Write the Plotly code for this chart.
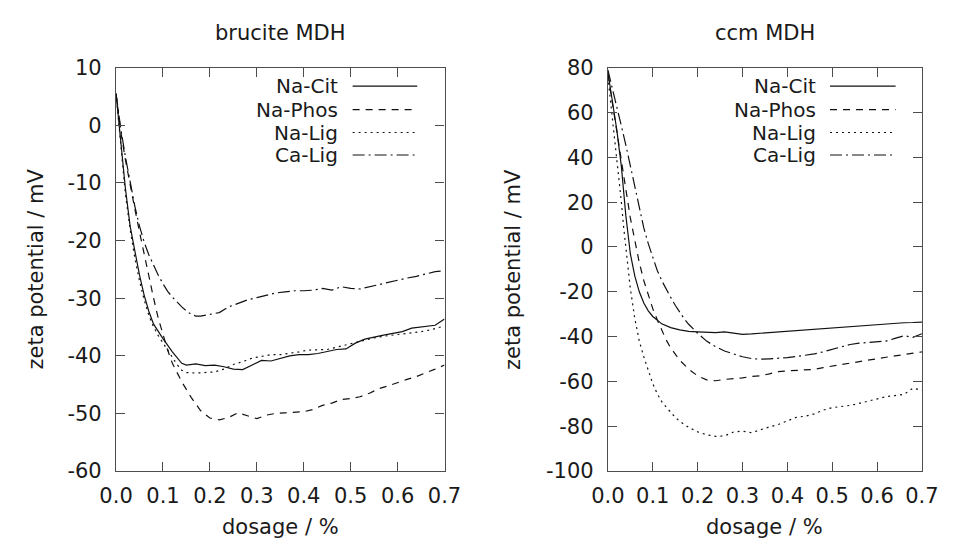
import plotly.graph_objects as go

W, H = 956, 550

# ---------------- data: brucite MDH (left panel) ----------------
bru_cit_x = [0, 0.01, 0.02, 0.03, 0.04, 0.05, 0.06, 0.07, 0.08, 0.09, 0.10, 0.12, 0.14, 0.15, 0.17, 0.19,
             0.21, 0.23, 0.25, 0.27, 0.29, 0.31, 0.33, 0.35, 0.37, 0.39, 0.41, 0.43, 0.45, 0.47, 0.49,
             0.51, 0.53, 0.55, 0.57, 0.59, 0.61, 0.63, 0.65, 0.67, 0.68, 0.70]
bru_cit_y = [5.5, -3, -11, -17.5, -22, -26, -29.5, -32.3, -34.5, -35.8, -37, -39.3, -41.3, -41.6, -41.4, -41.7,
             -41.6, -41.9, -42.3, -42.4, -41.6, -40.8, -40.9, -40.5, -40.0, -39.8, -39.8, -39.6, -39.2, -38.9, -38.8,
             -37.8, -37.1, -36.7, -36.4, -36.1, -35.8, -35.2, -35.0, -34.8, -34.7, -33.6]

bru_phos_x = [0, 0.01, 0.02, 0.03, 0.04, 0.05, 0.06, 0.07, 0.08, 0.09, 0.10, 0.11, 0.12, 0.13, 0.14, 0.16,
              0.18, 0.20, 0.22, 0.24, 0.26, 0.28, 0.30, 0.32, 0.34, 0.36, 0.38, 0.40, 0.42, 0.44, 0.46,
              0.48, 0.50, 0.52, 0.54, 0.56, 0.58, 0.60, 0.62, 0.64, 0.66, 0.68, 0.70]
bru_phos_y = [5.5, -1, -6, -10.5, -14.5, -18.5, -22.5, -26.5, -30, -33.5, -36.5, -39, -41.3, -43, -44.5, -47.2,
              -49.5, -50.8, -51.1, -50.7, -49.9, -50.4, -50.9, -50.3, -50.0, -49.9, -49.8, -49.7, -49.3, -48.6, -48.2,
              -47.6, -47.4, -47.1, -46.5, -45.7, -45.2, -44.6, -44.1, -43.6, -43.0, -42.3, -41.6]

bru_nalig_x = [0, 0.01, 0.02, 0.03, 0.04, 0.05, 0.06, 0.07, 0.08, 0.09, 0.10, 0.12, 0.13, 0.14, 0.15, 0.17,
               0.19, 0.21, 0.23, 0.25, 0.27, 0.29, 0.31, 0.33, 0.35, 0.37, 0.39, 0.41, 0.43, 0.45, 0.47,
               0.49, 0.51, 0.53, 0.55, 0.57, 0.59, 0.61, 0.63, 0.65, 0.67, 0.70]
bru_nalig_y = [5.5, -4, -12, -18, -23, -27, -30.3, -33, -35, -36.5, -37.8, -40.2, -41.5, -42.5, -42.9, -43.0,
               -42.9, -42.8, -42.3, -41.5, -41.0, -40.4, -40.1, -39.8, -39.8, -39.6, -39.3, -39.0, -38.9, -38.9, -38.5,
               -38.1, -37.6, -37.2, -36.9, -36.6, -36.4, -36.3, -36.1, -35.8, -35.5, -34.8]

bru_calig_x = [0, 0.01, 0.02, 0.03, 0.04, 0.05, 0.06, 0.07, 0.08, 0.09, 0.10, 0.11, 0.12, 0.13, 0.14, 0.15,
               0.16, 0.17, 0.18, 0.20, 0.22, 0.24, 0.26, 0.28, 0.30, 0.32, 0.34, 0.36, 0.38, 0.40, 0.42,
               0.44, 0.46, 0.48, 0.50, 0.52, 0.54, 0.56, 0.58, 0.60, 0.62, 0.64, 0.66, 0.68, 0.70]
bru_calig_y = [5.5, -0.5, -5.5, -10, -14, -17.5, -20.3, -22.5, -24.3, -26, -27.5, -28.8, -29.8, -30.7, -31.5, -32.2,
               -32.8, -33.1, -33.1, -32.8, -32.5, -31.5, -30.9, -30.3, -29.9, -29.5, -29.1, -28.9, -28.7, -28.7, -28.6,
               -28.3, -28.6, -28.0, -28.3, -28.4, -28.0, -27.6, -27.2, -26.8, -26.5, -26.2, -25.8, -25.4, -25.2]

# ---------------- data: ccm MDH (right panel) ----------------
ccm_cit_x = [0, 0.01, 0.02, 0.03, 0.04, 0.05, 0.06, 0.07, 0.08, 0.09, 0.10, 0.12, 0.14, 0.16, 0.18, 0.20,
             0.22, 0.24, 0.26, 0.28, 0.30, 0.32, 0.34, 0.36, 0.38, 0.40, 0.42, 0.44, 0.46, 0.48, 0.50,
             0.52, 0.54, 0.56, 0.58, 0.60, 0.62, 0.64, 0.66, 0.68, 0.70]
ccm_cit_y = [78, 65, 52, 36, 14, -3, -13, -20, -25, -28.5, -31, -34.3, -36, -37, -37.7, -37.9,
             -38.0, -38.2, -37.9, -38.6, -39.0, -38.8, -38.5, -38.3, -38.0, -37.8, -37.5, -37.1, -36.8, -36.5, -36.2,
             -35.9, -35.5, -35.2, -34.8, -34.5, -34.2, -34.0, -33.8, -33.7, -33.5]

ccm_phos_x = [0, 0.01, 0.02, 0.03, 0.04, 0.05, 0.06, 0.07, 0.08, 0.09, 0.10, 0.11, 0.12, 0.13, 0.14, 0.15,
              0.16, 0.18, 0.20, 0.22, 0.24, 0.26, 0.28, 0.30, 0.32, 0.34, 0.36, 0.38, 0.40, 0.42, 0.44,
              0.46, 0.48, 0.50, 0.52, 0.54, 0.56, 0.58, 0.60, 0.62, 0.64, 0.66, 0.68, 0.70]
ccm_phos_y = [77, 64, 50, 37, 25, 13, 3, -7, -15, -21.5, -27.5, -32.5, -37, -41.5, -45, -48,
              -50.5, -54.5, -57.5, -59.3, -59.7, -59.1, -58.8, -58.4, -57.8, -57.5, -56.6, -55.6, -55.3, -55.1, -54.9,
              -54.6, -53.8, -53.1, -52.4, -51.7, -51.1, -50.5, -49.9, -49.2, -48.6, -47.9, -47.3, -46.8]

ccm_nalig_x = [0, 0.01, 0.02, 0.03, 0.035, 0.04, 0.045, 0.05, 0.06, 0.07, 0.08, 0.09, 0.10, 0.11, 0.12, 0.13,
               0.14, 0.15, 0.16, 0.18, 0.20, 0.22, 0.24, 0.26, 0.28, 0.30, 0.32, 0.34, 0.36, 0.38, 0.40,
               0.42, 0.44, 0.46, 0.48, 0.50, 0.52, 0.54, 0.56, 0.58, 0.60, 0.62, 0.64, 0.66, 0.68, 0.70]
ccm_nalig_y = [76, 58, 40, 20, 9, -1, -11, -18.5, -32, -42, -49, -55.5, -61, -65.5, -69, -71.5,
               -74, -76, -77.8, -80.5, -82.5, -83.8, -84.5, -84.3, -82.6, -82.2, -82.9, -81.5, -80.3, -79.2, -77.5,
               -76.0, -75.5, -74.5, -72.8, -71.7, -71.2, -70.7, -69.8, -68.8, -67.8, -66.8, -66.3, -65.8, -63.0, -64.0]

ccm_calig_x = [0, 0.01, 0.02, 0.03, 0.04, 0.05, 0.06, 0.07, 0.08, 0.09, 0.10, 0.11, 0.12, 0.13, 0.14, 0.15,
               0.16, 0.17, 0.18, 0.19, 0.20, 0.22, 0.24, 0.26, 0.28, 0.30, 0.32, 0.34, 0.36, 0.38, 0.40,
               0.42, 0.44, 0.46, 0.48, 0.50, 0.52, 0.54, 0.56, 0.58, 0.60, 0.62, 0.64, 0.66, 0.68, 0.70]
ccm_calig_y = [79, 71, 62, 54, 45.5, 36, 27, 17, 8.5, 1.5, -5, -10.5, -15, -19, -22.5, -26,
               -29.2, -32, -34.5, -36.6, -38.5, -42, -44.5, -46.4, -47.8, -49.0, -49.8, -50.1, -49.9, -49.7, -49.4,
               -48.9, -48.4, -47.7, -46.8, -45.8, -44.5, -43.5, -42.9, -42.5, -42.3, -42.0, -40.8, -39.6, -40.3, -38.7]

series_names = ["Na-Cit", "Na-Phos", "Na-Lig", "Ca-Lig"]
panel_titles = ["brucite MDH", "ccm MDH"]
x_title = "dosage / %"
y_title = "zeta potential / mV"
x_ticks = [0.0, 0.1, 0.2, 0.3, 0.4, 0.5, 0.6, 0.7]
y_ticks_left = [10, 0, -10, -20, -30, -40, -50, -60]
y_ticks_right = [80, 60, 40, 20, 0, -20, -40, -60, -80, -100]

# ---------------- styling ----------------
FONT = "DejaVu Sans"
FS = 21
LEG_FS = 20
TXT = "#1a1a1a"
FRAME = "#4d4d4d"
LINE = "#111111"
dashes = ["solid", "7px,6px", "2px,4px", "12px,4px,2px,4px"]


def px(x):
    return x / W


def py(y):
    return 1 - y / H


# plot areas in pixels
L = dict(x0=102.7, x1=443.3, y0=58.3, y1=480.0)
R = dict(x0=612.7, x1=938.3, y0=58.3, y1=480.0)

fig = go.Figure()

left_data = [(bru_cit_x, bru_cit_y), (bru_phos_x, bru_phos_y), (bru_nalig_x, bru_nalig_y), (bru_calig_x, bru_calig_y)]
right_data = [(ccm_cit_x, ccm_cit_y), (ccm_phos_x, ccm_phos_y), (ccm_nalig_x, ccm_nalig_y), (ccm_calig_x, ccm_calig_y)]

for (xs, ys), name, d in zip(left_data, series_names, dashes):
    fig.add_trace(go.Scatter(x=xs, y=ys, mode="lines", name=name, showlegend=False, hoverinfo="skip",
                             line=dict(color=LINE, width=1.2, dash=d), xaxis="x", yaxis="y"))
for (xs, ys), name, d in zip(right_data, series_names, dashes):
    fig.add_trace(go.Scatter(x=xs, y=ys, mode="lines", name=name, showlegend=False, hoverinfo="skip",
                             line=dict(color=LINE, width=1.2, dash=d), xaxis="x2", yaxis="y2"))

axis_common = dict(showline=True, linecolor=FRAME, linewidth=1.2, mirror="ticks", ticks="inside",
                   ticklen=9, tickwidth=1.2, tickcolor=FRAME, showgrid=False, zeroline=False,
                   tickfont=dict(family=FONT, size=FS, color=TXT))

fig.update_layout(
    width=W, height=H, margin=dict(l=0, r=0, t=0, b=0),
    paper_bgcolor="white", plot_bgcolor="white", showlegend=False,
    xaxis=dict(domain=[px(L["x0"]), px(L["x1"])], range=[0, 0.7], tickvals=x_ticks,
               ticktext=[f"{v:.1f}" for v in x_ticks], anchor="y", ticklabelstandoff=6, **axis_common),
    yaxis=dict(domain=[py(L["y1"]), py(L["y0"])], range=[-60, 10], tickvals=y_ticks_left,
               ticktext=[str(v) for v in y_ticks_left], anchor="x", ticklabelstandoff=9, **axis_common),
    xaxis2=dict(domain=[px(R["x0"]), px(R["x1"])], range=[0, 0.7], tickvals=x_ticks,
                ticktext=[f"{v:.1f}" for v in x_ticks], anchor="y2", ticklabelstandoff=6, **axis_common),
    yaxis2=dict(domain=[py(R["y1"]), py(R["y0"])], range=[-100, 80], tickvals=y_ticks_right,
                ticktext=[str(v) for v in y_ticks_right], anchor="x2", ticklabelstandoff=9, **axis_common),
)

annotations = []
shapes = []
for box, title in [(L, panel_titles[0]), (R, panel_titles[1])]:
    cx = (box["x0"] + box["x1"]) / 2
    annotations.append(dict(text=title, x=px(cx), y=py(22), xref="paper", yref="paper",
                            showarrow=False, xanchor="center", yanchor="middle",
                            font=dict(family=FONT, size=FS, color=TXT)))
    annotations.append(dict(text=x_title, x=px(cx), y=py(538), xref="paper", yref="paper",
                            showarrow=False, xanchor="center", yanchor="middle",
                            font=dict(family=FONT, size=FS, color=TXT)))

for xpos in [20, 515]:
    annotations.append(dict(text=y_title, x=px(xpos), y=py(269), xref="paper", yref="paper",
                            showarrow=False, xanchor="center", yanchor="middle", textangle=-90,
                            font=dict(family=FONT, size=FS, color=TXT)))

legend_rows = [77.5, 102, 126, 149.5]
for text_right, line_x0, line_x1 in [(334, 348, 415), (829, 843, 911)]:
    for name, d, yy in zip(series_names, dashes, legend_rows):
        annotations.append(dict(text=name, x=px(text_right), y=py(yy), xref="paper", yref="paper",
                                showarrow=False, xanchor="right", yanchor="middle", borderpad=0,
                                font=dict(family=FONT, size=LEG_FS, color=TXT)))
        shapes.append(dict(type="line", xref="paper", yref="paper", x0=px(line_x0), x1=px(line_x1),
                           y0=py(yy), y1=py(yy), line=dict(color=LINE, width=1.2, dash=d)))

fig.update_layout(annotations=annotations, shapes=shapes)

fig.write_html("out.html", config={"displayModeBar": False},
               post_script="document.body.style.margin='0px';")
